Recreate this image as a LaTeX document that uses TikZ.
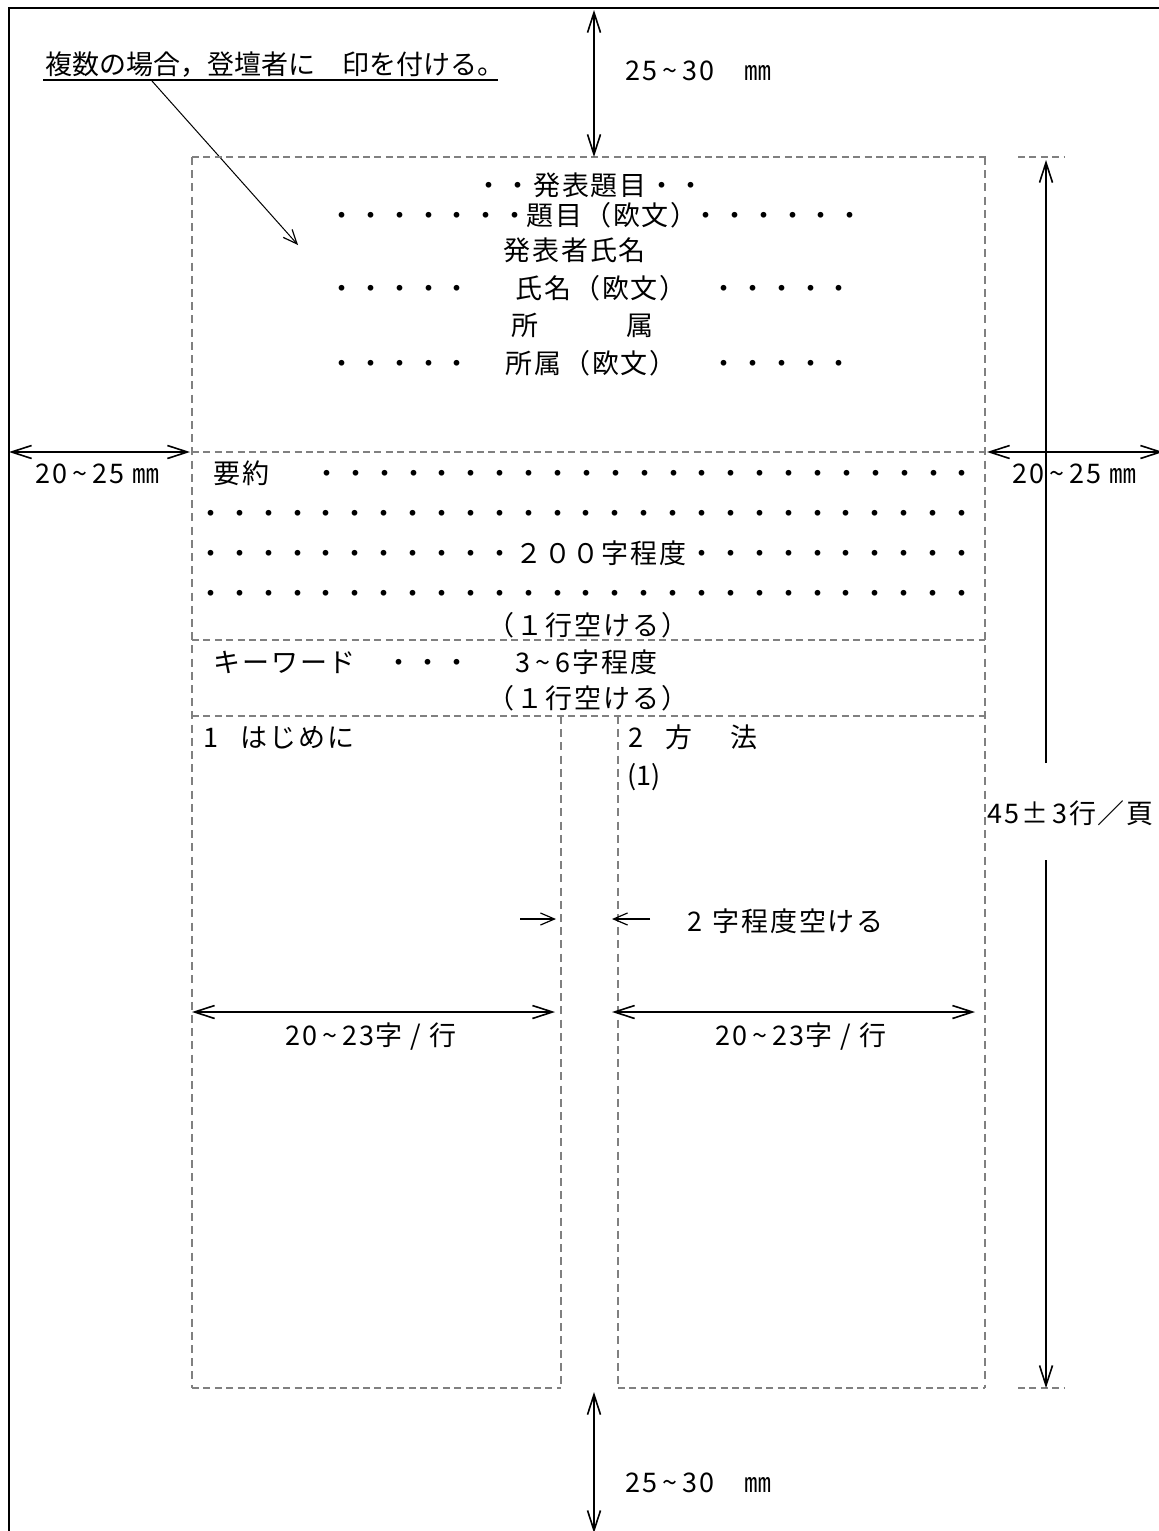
\documentclass[tikz,border=0pt]{standalone}
\usepackage{fontspec}
\newfontfamily\jp[LetterSpace=7]{Noto Sans CJK JP}
\newfontfamily\jpn{Noto Sans CJK JP}
\usetikzlibrary{arrows.meta}
\newcommand{\tld}{\hspace{2.5pt}\textasciitilde\hspace{2.5pt}}
\begin{document}
\begin{tikzpicture}[x=0.5pt,y=-0.5pt,
  txt/.style={font=\jp\fontsize{13.5pt}{16pt}\selectfont, inner sep=0pt,
    text height=11.9pt, text depth=1.6pt, anchor=west},
  ntxt/.style={txt, font=\jpn\fontsize{13.5pt}{16pt}\selectfont},
  ctxt/.style={txt, anchor=center},
  gdash/.style={draw=gray, line width=0.8pt, dash pattern=on 3.5pt off 2.2pt},
  vdash/.style={draw=gray, line width=0.6pt, dash pattern=on 4pt off 2.6pt},
  barb/.tip={Straight Barb[length=10pt,width=6.5pt,line width=0.8pt]},
  sbarb/.tip={Straight Barb[length=7pt,width=6pt,line width=0.6pt]},
  dimline/.style={line width=1pt, barb-barb},
  onedim/.style={line width=1pt, -barb},
  smallarr/.style={line width=0.8pt, -sbarb},
  leader/.style={line width=0.5pt, -sbarb}]
\useasboundingbox (0,0) rectangle (1159,1531);
\clip (0,0) rectangle (1159,1531);

% page border
\draw[line width=1pt] (9,1600) -- (9,8) -- (1220,8);

% annotation
\node[ntxt] (note) at (45,64) {複数の場合，登壇者に　印を付ける。};
\coordinate (ulA) at (43,80);
\coordinate (ulB) at (498,80);
\draw[line width=0.9pt] (ulA) -- (ulB);
\coordinate (ldA) at (152,81);
\coordinate (ldB) at (298,245);
\draw[leader] (ldA) -- (ldB);

% dashed layout
\draw[gdash] (192,157) -- (988,157);
\draw[gdash] (192,452) -- (985,452);
\draw[gdash] (192,640) -- (985,640);
\draw[gdash] (192,716) -- (985,716);
\draw[gdash] (192,1388) -- (561,1388);
\draw[gdash] (618,1388) -- (985,1388);
\draw[vdash] (192,157) -- (192,1388);
\draw[vdash] (985,157) -- (985,1388);
\draw[vdash] (561,716) -- (561,1388);
\draw[vdash] (618,716) -- (618,1388);
\draw[gdash] (1018,157) -- (1065,157);
\draw[gdash] (1018,1388) -- (1065,1388);

% top margin
\coordinate (tA) at (594,10);
\coordinate (tB) at (594,157);
\draw[dimline] (tA) -- (tB);
\node[txt] (topmm) at (625,70) {25\tld 30　㎜};

% bottom margin
\coordinate (bA) at (594,1392);
\coordinate (bB) at (594,1533);
\draw[dimline] (bA) -- (bB);
\node[txt] (botmm) at (625,1482) {25\tld 30　㎜};

% left / right margins
\coordinate (lA) at (9,452);
\coordinate (lB) at (190,452);
\draw[dimline] (lA) -- (lB);
\node[txt] (leftmm) at (35,473) {20\tld 25 ㎜};
\coordinate (rA) at (987,452);
\coordinate (rB) at (1163,452);
\draw[dimline] (rA) -- (rB);
\node[txt] (rightmm) at (1012,473) {20\tld 25 ㎜};

% lines per page
\coordinate (vA) at (1046,763);
\coordinate (vB) at (1046,160);
\coordinate (vC) at (1046,860);
\coordinate (vD) at (1046,1388);
\draw[onedim] (vA) -- (vB);
\draw[onedim] (vC) -- (vD);
\node[txt] (lines) at (987,813) {45±\hspace{2pt}3行／頁};

% title block
\node[ctxt] (t1) at (590,185) {・・発表題目・・};
\node[txt] (t2a) at (328,215) {・・・・・・・};
\node[txt] (t2b) at (526,215) {題目（欧文）};
\node[txt] (t2c) at (692,215) {・・・・・・};
\node[txt] (t3) at (503,250) {発表者氏名};
\node[txt] (t4a) at (328,288) {・・・・・};
\node[txt] (t4b) at (515,288) {氏名（欧文）};
\node[txt] (t4c) at (710,288) {・・・・・};
\node[txt] (t5a) at (511,325) {所};
\node[txt] (t5b) at (626,325) {属};
\node[txt] (t6a) at (328,363) {・・・・・};
\node[txt] (t6b) at (505,363) {所属（欧文）};
\node[txt] (t6c) at (710,363) {・・・・・};

% abstract
\node[txt] (a1a) at (213,473) {要約};
\node[txt] (a1b) at (313,473) {・・・・・・・・・・・・・・・・・・・・・・・};
\node[txt] (a2) at (197,513) {・・・・・・・・・・・・・・・・・・・・・・・・・・・};
\node[txt] (a3) at (197,553) {・・・・・・・・・・・２００字程度・・・・・・・・・・};
\node[txt] (a4) at (197,593) {・・・・・・・・・・・・・・・・・・・・・・・・・・・};
\node[ctxt] (a5) at (588,625) {（１行空ける）};

% keywords
\node[txt] (k1a) at (213,662) {キーワード};
\node[txt] (k1b) at (385,662) {・・・};
\node[txt] (k1c) at (515,662) {3\tld 6字程度};
\node[ctxt] (k2) at (588,698) {（１行空ける）};

% columns
\node[txt] (c1a) at (203,737) {1};
\node[txt] (c1b) at (240,737) {はじめに};
\node[txt] (c2a) at (628,737) {2};
\node[txt] (c2b) at (665,737) {方};
\node[txt] (c2c) at (730,737) {法};
\node[ntxt] (c2d) at (627,775) {(1)};

\coordinate (gA) at (520,919);
\coordinate (gB) at (556,919);
\coordinate (gC) at (650,919);
\coordinate (gD) at (612,919);
\draw[smallarr] (gA) -- (gB);
\draw[smallarr] (gC) -- (gD);
\node[txt] (gap) at (687,921) {2\hspace{5pt}字程度空ける};

\coordinate (wA) at (192,1012);
\coordinate (wB) at (555,1012);
\coordinate (wC) at (612,1012);
\coordinate (wD) at (975,1012);
\draw[dimline] (wA) -- (wB);
\draw[dimline] (wC) -- (wD);
\node[txt] (w1) at (285,1035) {20\tld 23字 / 行};
\node[txt] (w2) at (715,1035) {20\tld 23字 / 行};
\end{tikzpicture}
\end{document}
